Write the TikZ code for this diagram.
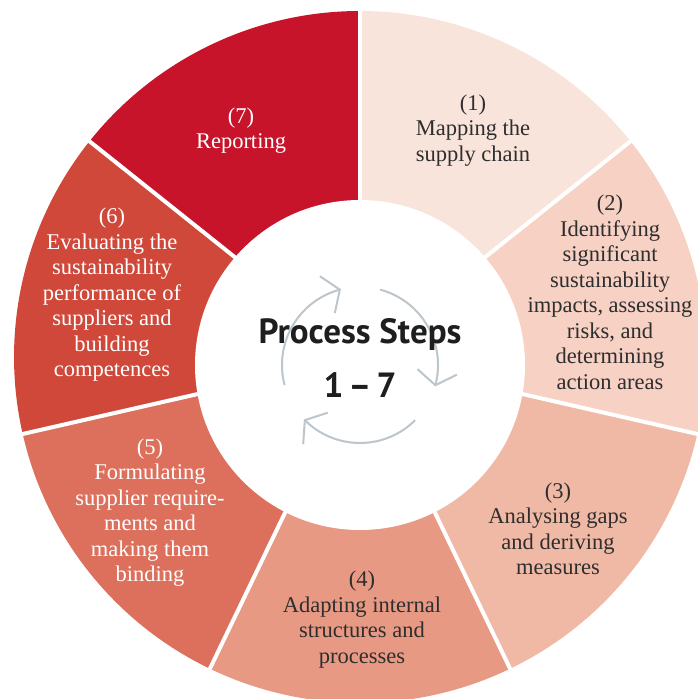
\documentclass[tikz,border=0pt]{standalone}
\usepackage{fontspec}
\setmainfont{Liberation Serif}
\newfontfamily\headfont{PT Sans}
\definecolor{cA}{HTML}{F9E4DB}
\definecolor{cB}{HTML}{F6D1C4}
\definecolor{cC}{HTML}{F0B9A5}
\definecolor{cD}{HTML}{E89983}
\definecolor{cE}{HTML}{DC705C}
\definecolor{cF}{HTML}{D0483A}
\definecolor{cG}{HTML}{C8142B}
\definecolor{darktext}{HTML}{2E2E2E}
\definecolor{cycgray}{HTML}{BCC6CC}
\definecolor{headtext}{HTML}{1E1E1E}
\tikzset{
  steplabel/.style={align=center, font=\fontsize{22.5}{25.5}\selectfont, inner sep=0pt},
  darklabel/.style={steplabel, text=darktext},
  lightlabel/.style={steplabel, text=white},
  cycleline/.style={draw=cycgray, line width=2pt, line join=miter},
  headlabel/.style={font=\headfont\bfseries\fontsize{35}{40}\selectfont, text=headtext, inner sep=0pt}
}
\begin{document}
\begin{tikzpicture}[x=1pt,y=1pt]
\useasboundingbox (0,0) rectangle (698,699);
\clip (0,0) rectangle (698,699);
\coordinate (O) at (360,342);
\coordinate (I) at (360,334);
% wedges
\foreach \c [count=\i from 0] in {cA,cB,cC,cD,cE,cF,cG} {
  \pgfmathsetmacro\a{90-\i*360/7}
  \pgfmathsetmacro\b{90-(\i+1)*360/7}
  \fill[\c] (O) -- ([shift={(\a:346)}]O) arc[start angle=\a, end angle=\b, radius=346] -- cycle;
}
% white gaps
\foreach \i in {0,...,6} {
  \draw[white, line width=4pt] (O) -- ([shift={({90-\i*360/7}:360)}]O);
}
% inner circle
\fill[white] (I) circle[radius=165];
% cycle arrows
\foreach \s/\t [count=\k] in {195/105, 75/-15, -45/-135} {
  \coordinate (tip\k) at ([shift={(\t:78)}]I);
  \draw[cycleline] ([shift={(\s:78)}]I) arc[start angle=\s, end angle=\t, radius=78];
  \draw[cycleline] ([shift={({\t+97+56}:24)}]tip\k) -- (tip\k) -- ([shift={({\t+97-56}:24)}]tip\k);
}
% centre text
\node[headlabel] (title) at (360,364) {Process Steps};
\node[headlabel] (range) at (360,314) {1\hspace{5pt}–\hspace{5pt}7};
% labels
\node[darklabel] (s1) at (473,568.5) {(1)\\Mapping the\\supply chain};
\node[darklabel] (s2) at (610,406.5) {(2)\\Identifying\\significant\\sustainability\\impacts, assessing\\risks, and\\determining\\action areas};
\node[darklabel] (s3) at (558,170) {(3)\\Analysing gaps\\and deriving\\measures};
\node[darklabel] (s4) at (362,79.5) {(4)\\Adapting internal\\structures and\\processes};
\node[lightlabel] (s5) at (150,186.5) {(5)\\Formulating\\supplier require-\\ments and\\making them\\binding};
\node[lightlabel] (s6) at (112,404) {(6)\\Evaluating the\\sustainability\\performance of\\suppliers and\\building\\competences};
\node[lightlabel] (s7) at (241,568.5) {(7)\\Reporting};
\end{tikzpicture}
\end{document}
